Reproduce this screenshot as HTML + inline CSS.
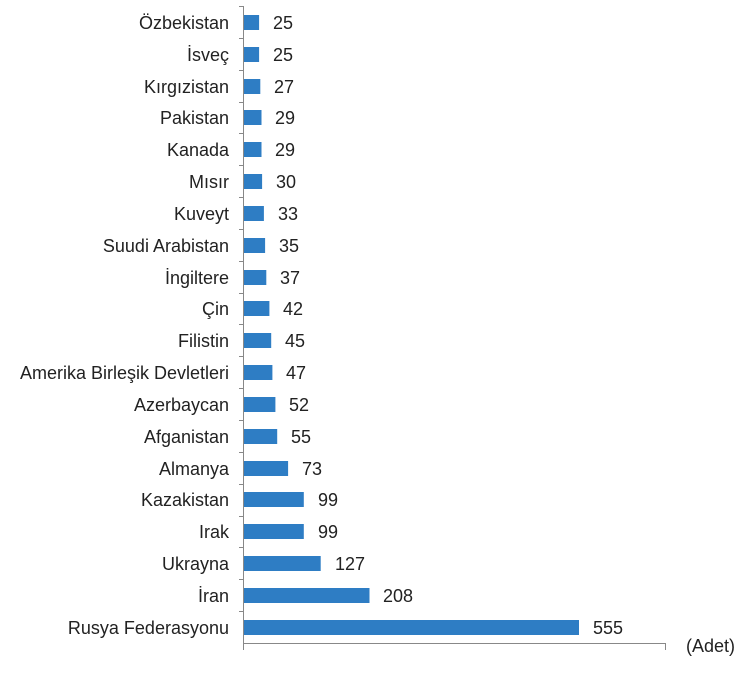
<!DOCTYPE html>
<html><head><meta charset="utf-8"><style>body{margin:0;background:#fff}svg{display:block}</style></head>
<body>
<svg width="750" height="673" xmlns="http://www.w3.org/2000/svg" font-family="Liberation Sans, Arial, sans-serif" font-size="18" fill="#222">
<line x1="243.5" y1="6" x2="243.5" y2="650" stroke="#888" stroke-width="1"/>
<line x1="243" y1="643.5" x2="666" y2="643.5" stroke="#888" stroke-width="1"/>
<line x1="665.5" y1="643" x2="665.5" y2="650" stroke="#888"/>
<text x="735" y="652" text-anchor="end">(Adet)</text>
<g stroke="#888">
<line x1="239" x2="244" y1="6.5" y2="6.5"/><line x1="239" x2="244" y1="38.5" y2="38.5"/><line x1="239" x2="244" y1="70.5" y2="70.5"/><line x1="239" x2="244" y1="102.5" y2="102.5"/><line x1="239" x2="244" y1="133.5" y2="133.5"/><line x1="239" x2="244" y1="165.5" y2="165.5"/><line x1="239" x2="244" y1="197.5" y2="197.5"/><line x1="239" x2="244" y1="229.5" y2="229.5"/><line x1="239" x2="244" y1="261.5" y2="261.5"/><line x1="239" x2="244" y1="293.5" y2="293.5"/><line x1="239" x2="244" y1="324.5" y2="324.5"/><line x1="239" x2="244" y1="356.5" y2="356.5"/><line x1="239" x2="244" y1="388.5" y2="388.5"/><line x1="239" x2="244" y1="420.5" y2="420.5"/><line x1="239" x2="244" y1="452.5" y2="452.5"/><line x1="239" x2="244" y1="484.5" y2="484.5"/><line x1="239" x2="244" y1="516.5" y2="516.5"/><line x1="239" x2="244" y1="547.5" y2="547.5"/><line x1="239" x2="244" y1="579.5" y2="579.5"/><line x1="239" x2="244" y1="611.5" y2="611.5"/>
</g>
<g fill="#2e7dc4">
<rect x="244" y="15" width="15.1" height="15"/>
<rect x="244" y="47" width="15.1" height="15"/>
<rect x="244" y="79" width="16.3" height="15"/>
<rect x="244" y="110" width="17.5" height="15"/>
<rect x="244" y="142" width="17.5" height="15"/>
<rect x="244" y="174" width="18.1" height="15"/>
<rect x="244" y="206" width="19.9" height="15"/>
<rect x="244" y="238" width="21.1" height="15"/>
<rect x="244" y="270" width="22.3" height="15"/>
<rect x="244" y="301" width="25.4" height="15"/>
<rect x="244" y="333" width="27.2" height="15"/>
<rect x="244" y="365" width="28.4" height="15"/>
<rect x="244" y="397" width="31.4" height="15"/>
<rect x="244" y="429" width="33.2" height="15"/>
<rect x="244" y="461" width="44.1" height="15"/>
<rect x="244" y="492" width="59.8" height="15"/>
<rect x="244" y="524" width="59.8" height="15"/>
<rect x="244" y="556" width="76.7" height="15"/>
<rect x="244" y="588" width="125.5" height="15"/>
<rect x="244" y="620" width="335" height="15"/>
</g>
<g text-anchor="end">
<text x="229" y="29">Özbekistan</text>
<text x="229" y="61">İsveç</text>
<text x="229" y="93">Kırgızistan</text>
<text x="229" y="124">Pakistan</text>
<text x="229" y="156">Kanada</text>
<text x="229" y="188">Mısır</text>
<text x="229" y="220">Kuveyt</text>
<text x="229" y="252">Suudi Arabistan</text>
<text x="229" y="284">İngiltere</text>
<text x="229" y="315">Çin</text>
<text x="229" y="347">Filistin</text>
<text x="229" y="379">Amerika Birleşik Devletleri</text>
<text x="229" y="411">Azerbaycan</text>
<text x="229" y="443">Afganistan</text>
<text x="229" y="475">Almanya</text>
<text x="229" y="506">Kazakistan</text>
<text x="229" y="538">Irak</text>
<text x="229" y="570">Ukrayna</text>
<text x="229" y="602">İran</text>
<text x="229" y="634">Rusya Federasyonu</text>
</g>
<g>
<text x="273" y="29">25</text>
<text x="273" y="61">25</text>
<text x="274" y="93">27</text>
<text x="275" y="124">29</text>
<text x="275" y="156">29</text>
<text x="276" y="188">30</text>
<text x="278" y="220">33</text>
<text x="279" y="252">35</text>
<text x="280" y="284">37</text>
<text x="283" y="315">42</text>
<text x="285" y="347">45</text>
<text x="286" y="379">47</text>
<text x="289" y="411">52</text>
<text x="291" y="443">55</text>
<text x="302" y="475">73</text>
<text x="318" y="506">99</text>
<text x="318" y="538">99</text>
<text x="335" y="570">127</text>
<text x="383" y="602">208</text>
<text x="593" y="634">555</text>
</g>
</svg>
</body></html>
